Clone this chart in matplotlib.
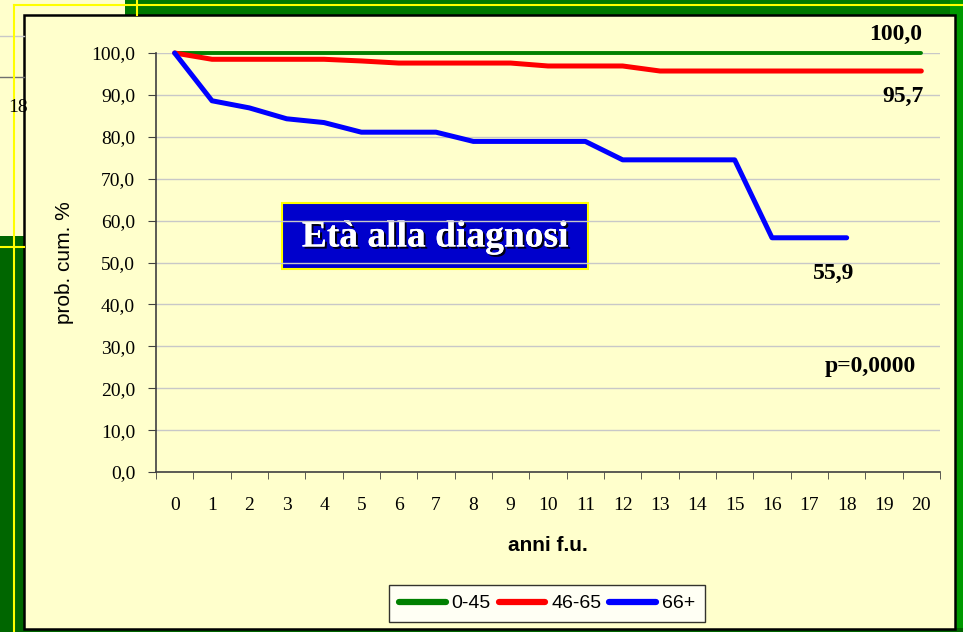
import numpy as np
import matplotlib
matplotlib.use("Agg")
import matplotlib.pyplot as plt
import matplotlib.patheffects as pe
from matplotlib.patches import Rectangle

# dati
anni = list(range(0, 21))
gruppi = ["0-45", "46-65", "66+"]
eta_0_45 = [100.0] * 21
eta_46_65 = [100.0, 98.5, 98.5, 98.5, 98.5, 98.1, 97.6, 97.6, 97.6, 97.6, 96.9,
             96.9, 96.9, 95.7, 95.7, 95.7, 95.7, 95.7, 95.7, 95.7, 95.7]
eta_66 = [100.0, 88.6, 86.9, 84.3, 83.4, 81.1, 81.1, 81.1, 78.9, 78.9, 78.9,
          78.9, 74.5, 74.5, 74.5, 74.5, 55.9, 55.9, 55.9]
colori = ["#008000", "#FF0000", "#0000FF"]
y_ticks = np.arange(0, 101, 10)

serif = "Liberation Serif"
sans = "Liberation Sans"

W, H = 963, 632
fig = plt.figure(figsize=(W / 100, H / 100), dpi=100, facecolor="#FFFFCC")

# sfondo della slide (coordinate in pixel)
bg = fig.add_axes([0, 0, 1, 1], zorder=0)
bg.set_xlim(0, W)
bg.set_ylim(H, 0)
bg.axis("off")
bg.plot([0, 24], [36, 36], color="#C8C8C8", lw=1)
bg.plot([0, 24], [77, 77], color="#707070", lw=1)
bg.text(8, 107, "18", fontsize=14, family=serif, va="center", ha="left")
bg.add_patch(Rectangle((125, 0), W - 125, 15, fc="#007800", ec="none"))
bg.add_patch(Rectangle((0, 236), 24, H - 236, fc="#006600", ec="none"))
bg.add_patch(Rectangle((950, 0), 14, H, fc="#009900", ec="none"))
bg.add_patch(Rectangle((0, 628), W, 5, fc="#006600", ec="none"))
bg.plot([14, 14], [5, H], color="#FFFF00", lw=1.5)
bg.plot([14, W], [5, 5], color="#FFFF00", lw=1.5)
bg.plot([0, 24], [247, 247], color="#FFFF00", lw=1.5)
bg.plot([137, 137], [0, 15], color="#FFFF00", lw=1.5)
bg.add_patch(Rectangle((24, 15), 931, 614, fc="#FFFFCC", ec="black", lw=1.8))

# area del grafico
ax = fig.add_axes([156 / W, (H - 472) / H, 784 / W, 419 / H], zorder=2)
ax.set_facecolor("none")
for nome, serie, c, lw in zip(gruppi, [eta_0_45, eta_46_65, eta_66], colori, [2.8, 3.6, 3.6]):
    ax.plot(anni[:len(serie)], serie, color=c, lw=lw, label=nome, clip_on=False,
            solid_capstyle="round", solid_joinstyle="round", zorder=3)

ax.set_xlim(-0.5, 20.5)
ax.set_ylim(0, 100)
ax.set_yticks(y_ticks)
ax.set_yticklabels([f"{v:.1f}".replace(".", ",") for v in y_ticks],
                   fontsize=14, family=serif)
ax.set_xticks(anni)
ax.set_xticklabels([str(a) for a in anni], fontsize=14, family=serif)
ax.set_xticks(np.arange(-0.5, 21, 1), minor=True)
ax.tick_params(axis="x", which="major", length=0, pad=18)
ax.tick_params(axis="x", which="minor", length=5, direction="out", color="#404040")
ax.tick_params(axis="y", length=6, direction="out", color="#404040", pad=9)
ax.grid(axis="y", color="#C8C8C8", lw=1, zorder=0)
ax.set_axisbelow(True)
for s in ["top", "right"]:
    ax.spines[s].set_visible(False)
for s in ["left", "bottom"]:
    ax.spines[s].set_color("#404040")
    ax.spines[s].set_linewidth(1.2)

ax.set_xlabel("anni f.u.", fontsize=15, family=sans, fontweight="bold", labelpad=16)
ax.set_ylabel("prob. cum. %", fontsize=15, family=sans, labelpad=12)

# etichette valori finali
ax.text(19.32, 104.5, "100,0", fontsize=17, family=serif, fontweight="bold",
        ha="center", va="center", clip_on=False)
ax.text(19.51, 89.7, "95,7", fontsize=17, family=serif, fontweight="bold",
        ha="center", va="center")
ax.text(17.66, 47.3, "55,9", fontsize=17, family=serif, fontweight="bold",
        ha="center", va="center")
ax.text(18.63, 25.1, "p=0,0000", fontsize=17, family=serif, fontweight="bold",
        ha="center", va="center")

# riquadro titolo
bg.add_patch(Rectangle((282, 203), 306, 66, fc="#0000CC", ec="#FFFF00", lw=1.5, zorder=5))
t = bg.text(435, 237, "Età alla diagnosi", fontsize=27, family=serif, fontweight="bold",
            color="white", ha="center", va="center", zorder=6)
t.set_path_effects([pe.withSimplePatchShadow(offset=(1.5, -1.5), shadow_rgbFace="black",
                                             alpha=0.9), pe.Normal()])

leg = ax.legend(loc="center", bbox_to_anchor=(547, 603.5), bbox_transform=bg.transData,
                ncol=3, frameon=True, fancybox=False, edgecolor="black",
                prop={"family": sans, "size": 14}, handlelength=2.4,
                handletextpad=0.3, columnspacing=0.4, borderpad=0.5)
leg.get_frame().set_linewidth(1)
for h in leg.get_lines():
    h.set_linewidth(4.5)

fig.savefig("out.png", dpi=100, facecolor=fig.get_facecolor())
